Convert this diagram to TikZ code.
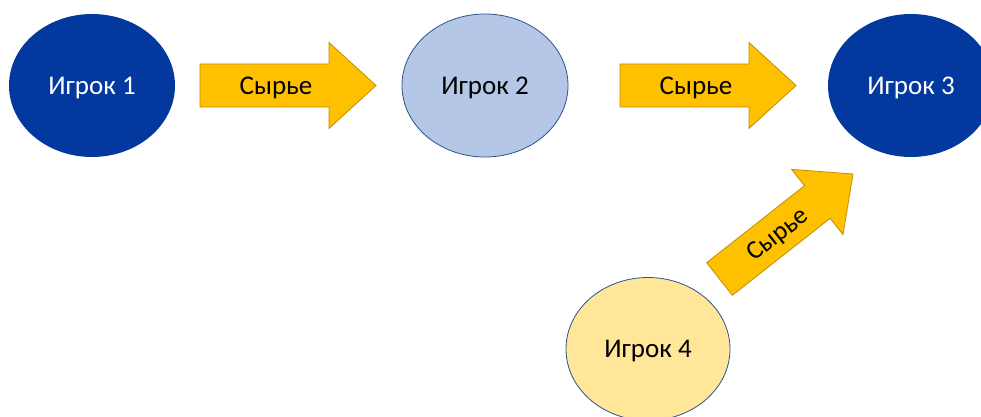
\documentclass[tikz,border=0pt]{standalone}
\usepackage{fontspec}
\setmainfont{Carlito}
\usetikzlibrary{shapes.geometric}
\definecolor{playerdark}{RGB}{3,57,158}
\definecolor{playerlight}{HTML}{B4C7E7}
\definecolor{playersand}{HTML}{FFE699}
\definecolor{rimblue}{HTML}{2F528F}
\definecolor{flowgold}{HTML}{FFC000}
\definecolor{flowrim}{HTML}{BF9000}
\tikzset{
  flowarrow/.pic={%
    \draw[flowrim,fill=flowgold,line width=.8pt,line join=miter]
      (0,-21.5) -- (129,-21.5) -- (129,-43) -- (176,0) -- (129,43) -- (129,21.5) -- (0,21.5) -- cycle;
    \node[flowtext] (-label) at (76,0) {Сырье};
  }
}
\begin{document}
\begin{tikzpicture}[x=1pt,y=1pt,
  player/.style={ellipse,minimum width=166pt,minimum height=143pt,inner sep=0pt,
    line width=.8pt,text depth=0pt,font=\fontsize{27}{31}\selectfont},
  flowtext/.style={transform shape,inner sep=0pt,text depth=0pt,font=\fontsize{27}{31}\selectfont}]
\clip (0,0) rectangle (981,416);
\useasboundingbox (0,0) rectangle (981,416);

% players
\node[player,fill=playerdark,text=white] (p1) at (92,330.5) {Игрок 1};
\node[player,draw=rimblue,fill=playerlight] (p2) at (485,330.5) {Игрок 2};
\node[player,fill=playerdark,text=white] (p3) at (911,330.5) {Игрок 3};
\node[player,draw=rimblue,fill=playersand,minimum width=164pt] (p4) at (648,67) {Игрок 4};

% raw material flows
\pic (f12) at (200,330.5) {flowarrow};
\pic (f23) at (620,330.5) {flowarrow};
\pic[rotate=38.2,scale=.965] (f43) at (719.5,137) {flowarrow};

\end{tikzpicture}
\end{document}
